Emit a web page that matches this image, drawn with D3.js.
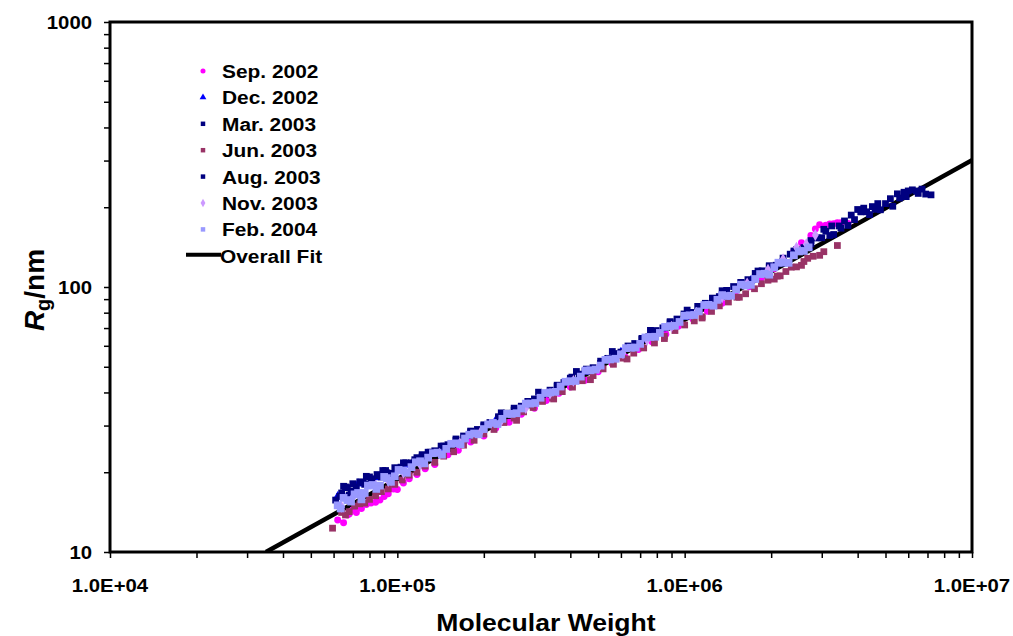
<!DOCTYPE html>
<html><head><meta charset="utf-8">
<script src="https://cdn.jsdelivr.net/npm/d3@7"></script>
<style>
body{margin:0;background:#fff;}
text{font-family:"Liberation Sans",Arial,sans-serif;font-weight:bold;fill:#000;}
</style></head>
<body><svg id="c" width="1013" height="636"></svg>
<script>
// ---- data (Molecular weight, Rg in nm) ----
const xTickLabels = ["1.0E+04","1.0E+05","1.0E+06","1.0E+07"];
const xTickValues = [1e4,1e5,1e6,1e7];
const yTickLabels = ["10","100","1000"];
const yTickValues = [10,100,1000];
const seriesNames = ["Sep. 2002","Dec. 2002","Mar. 2003","Jun. 2003","Aug. 2003","Nov. 2003","Feb. 2004"];

const sep2002 = [[6.2e4,13.2],[6.5e4,12.9],[6.8e4,13.9],[7.0e4,14.4],[7.5e4,14.6],[8.1e4,15.3],[8.7e4,15.7],[9.3e4,16.6],[1.0e5,17.2],[1.1e5,18.9],[1.25e5,20.6],[1.5e5,23.3],[1.8e5,26.0],[2.2e5,29.3],[2.7e5,33.1],[3.3e5,37.3],[4.0e5,41.9],[5.0e5,47.9],[6.2e5,54.5],[7.7e5,62.1],[9.5e5,71.1],[1.2e6,81.0],[1.5e6,93.6],[1.85e6,108.3],[2.2e6,126.1],[2.55e6,146.9],[2.75e6,156.5],[2.95e6,171.8],[3.1e6,171.2],[3.3e6,173.1],[3.5e6,174.7],[3.7e6,173.8],
  [6.7e4,13.8],[7.2e4,14.1],[7.8e4,15.1],[8.4e4,15.4],[9.0e4,16.2],[9.7e4,17.3],[1.05e5,18.2],[1.17e5,19.6],[1.35e5,21.4],[1.63e5,24.2],[2.0e5,27.4],[2.45e5,30.9],[3.0e5,34.9],[3.65e5,39.7],[4.5e5,44.5],[5.6e5,51.3],[6.9e5,58.1],[8.6e5,66.3],[1.07e6,75.6],[1.35e6,86.9],[1.68e6,100.2],[2.05e6,117.5],[2.4e6,136.7],[2.85e6,165.6],[3.2e6,173.0],[3.4e6,174.7]];

const dec2002 = [[6.2e4,16.2],[6.9e4,16.3],[7.3e4,18.1],[8.0e4,17.9],[8.5e4,19.1],[9.7e4,19.6],[1.08e5,21.3],[1.25e5,22.8],[1.45e5,24.7],[1.75e5,27.4],[2.2e5,31.4],[2.8e5,35.9],[3.6e5,41.8],[4.6e5,47.9],[6.0e5,56.8],[7.8e5,65.7],[1.0e6,77.1],[1.3e6,89.5],[1.7e6,106.0],[2.2e6,122.5],[2.7e6,141.1],
  [6.5e4,16.3],[7.7e4,18.2],[9.0e4,19.6]];

const mar2003 = [[6.3e4,16.2],[6.7e4,17.5],[7.1e4,16.8],[7.6e4,18.3],[8.1e4,18.6],[8.6e4,19.4],[9.2e4,19.9],[1.0e5,20.7],[1.15e5,22.3],[1.3e5,23.8],[1.45e5,25.1],[1.6e5,26.4],[1.8e5,28.4],[2.0e5,29.9],[2.25e5,32.1],[2.55e5,34.3],[2.85e5,37.0],[3.2e5,39.3],[3.6e5,42.2],[4.0e5,45.3],[4.5e5,48.2],[5.1e5,51.5],[5.7e5,55.6],[6.4e5,59.0],[7.1e5,63.4],[8.0e5,67.4],[8.9e5,73.3],[1.0e6,77.9],[1.12e6,84.1],[1.25e6,90.7],[1.4e6,95.3],[1.57e6,104.0],[1.76e6,108.3],[1.97e6,120.3],[2.2e6,124.9],[2.45e6,138.3],[2.75e6,149.7],[3.0e6,153.4],
  [6.5e4,17.7],[6.9e4,17.0],[7.8e4,19.3],[8.9e4,20.3],[1.05e5,21.7],[1.22e5,23.3]];

const jun2003 = [[5.95e4,12.3],[6.4e4,14.1],[6.8e4,14.2],[7.4e4,15.2],[8.0e4,15.8],[8.8e4,16.9],[9.8e4,18.0],[1.1e5,19.5],[1.25e5,21.1],[1.45e5,23.0],[1.7e5,25.3],[2.0e5,27.9],[2.35e5,30.8],[2.75e5,33.8],[3.2e5,37.0],[3.75e5,40.3],[4.4e5,44.3],[5.2e5,49.1],[6.1e5,53.9],[7.2e5,58.9],[8.5e5,65.2],[1.0e6,71.9],[1.15e6,77.2],[1.32e6,84.9],[1.52e6,91.5],[1.75e6,98.5],[1.95e6,106.1],[2.15e6,110.2],[2.35e6,118.8],[2.55e6,120.7],[2.8e6,130.6],[3.05e6,135.9],[3.4e6,143.4],
  [6.6e4,13.8],[7.1e4,14.9],[7.7e4,15.3],[8.4e4,16.3],[9.3e4,17.3],[1.04e5,18.7],[1.17e5,20.0],[1.35e5,21.8],[1.57e5,23.9],[1.85e5,26.4],[2.17e5,29.0],[2.55e5,32.0],[2.97e5,35.1],[3.47e5,38.1],[4.07e5,41.9],[4.8e5,46.3],[5.65e5,51.1],[6.65e5,56.3],[7.85e5,61.5],[9.25e5,68.5],[1.08e6,74.5],[1.24e6,80.9],[1.42e6,87.8],[1.63e6,94.3],[1.85e6,102.9],[2.05e6,107.1],[2.25e6,114.4],[2.45e6,119.1],[2.68e6,128.3],[2.95e6,131.7],
  [2.6e5,31.4],[3.5e5,37.8],[4.7e5,44.7],[6.3e5,53.5],[8.5e5,63.9],[1.15e6,76.4],[1.55e6,91.5],[2.1e6,109.9],[2.6e6,124.8]];

const aug2003 = [[6.1e4,15.7],[6.4e4,16.7],[6.8e4,16.4],[7.2e4,17.6],[7.7e4,18.0],[8.2e4,18.9],[8.8e4,19.2],[9.5e4,19.8],[1.03e5,20.9],[1.12e5,21.7],[1.22e5,22.9],[1.35e5,24.1],[1.5e5,25.4],[1.7e5,27.4],[1.9e5,29.0],[2.1e5,30.8],[2.4e5,33.4],[2.7e5,35.5],[3.0e5,37.8],[3.4e5,40.8],[3.8e5,43.6],[4.3e5,46.9],[4.8e5,49.6],[5.4e5,53.8],[6.0e5,56.8],[6.7e5,61.2],[7.5e5,64.9],[8.4e5,70.1],[9.4e5,75.7],[1.05e6,80.2],[1.18e6,86.8],[1.32e6,92.0],[1.48e6,100.4],[1.66e6,106.6],[1.86e6,115.1],[2.08e6,120.8],[2.33e6,133.0],[2.6e6,140.8],[2.9e6,153.1],[3.1e6,162.4],[3.25e6,170.0],[3.45e6,170.0],[3.6e6,177.5],[3.8e6,186.8],[4.0e6,196.1],[4.3e6,192.2],[4.5e6,201.1],[4.8e6,195.6],[5.0e6,206.4],[5.3e6,201.7],[5.6e6,216.7],[5.9e6,219.3],[6.2e6,232.6],[6.5e6,225.5],[6.9e6,224.2],[7.2e6,222.7],[3.2e6,156.4],[3.5e6,166.7],[3.9e6,179.6],[4.2e6,198.4],[4.6e6,196.4],[5.2e6,215.4],[5.8e6,227.8],[6.4e6,230.3],
  [6.6e4,17.6],[7.0e4,18.1],[7.4e4,18.4],[8.0e4,19.2],[8.5e4,19.6],[9.1e4,20.3],[9.8e4,20.8],[1.07e5,21.7],[1.17e5,22.7],[1.28e5,23.8],[1.42e5,25.1],[1.6e5,26.7],[1.8e5,28.6],[2.0e5,30.2],[2.25e5,32.4],[2.55e5,34.9],[2.85e5,37.0],[3.2e5,39.7],[3.6e5,42.6],[4.05e5,45.7],[4.55e5,49.0],[5.1e5,52.5],[5.7e5,56.1],[6.35e5,59.9],[7.1e5,64.0],[7.95e5,68.5],[8.9e5,74.0],[9.95e5,79.1],[1.11e6,84.5],[1.25e6,90.7],[1.4e6,97.1],[1.57e6,104.0],[1.76e6,112.5],[1.97e6,119.1],[2.2e6,128.5],[2.47e6,136.4],[2.75e6,145.5],
  [3.05e6,165.1],[3.3e6,157.8],[3.7e6,170.7],[4.1e6,192.1],[4.4e6,187.6],[4.7e6,206.4],[5.5e6,224.7],[6.0e6,230.4],[6.7e6,234.1],
  [2.3e5,33.5],[3.1e5,40.1],[4.2e5,48.0],[5.6e5,57.1],[7.6e5,68.6],[1.02e6,81.8],[1.35e6,96.8],[1.8e6,114.9],[2.4e6,136.7]];

const nov2003 = [[6.4e4,14.8],[7.0e4,16.1],[7.6e4,16.3],[8.4e4,17.8],[9.3e4,18.5],[1.05e5,19.9],[1.2e5,21.4],[1.4e5,23.5],[1.65e5,25.7],[1.95e5,28.4],[2.3e5,31.3],[2.8e5,34.9],[3.4e5,39.6],[4.1e5,44.2],[5.0e5,49.4],[6.1e5,56.2],[7.4e5,63.1],[9.0e5,70.9],[1.1e6,80.0],[1.35e6,91.4],[1.65e6,103.2],[1.95e6,116.2],[2.2e6,127.3],[2.45e6,140.9],[2.65e6,145.0],[2.85e6,157.1]];

const feb2004 = [[6.2e4,15.0],[6.5e4,16.0],[6.9e4,15.5],[7.3e4,16.7],[7.7e4,16.7],[8.2e4,17.9],[8.7e4,17.8],[9.2e4,19.0],[9.8e4,19.3],[1.05e5,20.3],[1.12e5,20.9],[1.2e5,22.0],[1.28e5,22.7],[1.38e5,23.7],[1.48e5,24.5],[1.6e5,25.7],[1.72e5,26.8],[1.85e5,28.0],[2.0e5,29.1],[2.15e5,30.7],[2.32e5,31.8],[2.5e5,33.2],[2.7e5,34.8],[2.9e5,36.3],[3.15e5,38.2],[3.4e5,40.0],[3.7e5,42.1],[4.0e5,44.1],[4.35e5,45.9],[4.7e5,48.5],[5.1e5,50.5],[5.5e5,53.3],[6.0e5,55.7],[6.5e5,59.0],[7.0e5,61.0],[7.6e5,64.8],[8.2e5,67.1],[8.9e5,71.2],[9.6e5,73.8],[1.04e6,78.2],[1.12e6,80.9],[1.21e6,85.6],[1.3e6,89.4],[1.4e6,92.5],[1.51e6,97.8],[1.63e6,101.3],[1.76e6,107.2],[1.9e6,112.2],[2.05e6,118.7],[2.2e6,123.7],[2.4e6,131.7],[2.6e6,136.8],
  [6.35e4,14.6],[6.7e4,15.7],[7.1e4,16.5],[7.5e4,15.8],[7.9e4,17.8],[8.45e4,17.3],[9.0e4,19.2],[9.5e4,18.4],[1.01e5,20.4],[1.08e5,19.9],[1.16e5,21.8],[1.24e5,21.6],[1.33e5,23.6],[1.43e5,23.3],[1.54e5,25.6],[1.66e5,25.5],[1.78e5,27.7],[1.92e5,27.8],[2.07e5,30.3],[2.23e5,30.4],[2.41e5,33.2],[2.6e5,33.4],[2.8e5,36.3],[3.02e5,36.5],[3.27e5,39.8],[3.55e5,40.2],[3.85e5,43.9],[4.17e5,44.2],[4.52e5,48.4],[4.9e5,48.8],[5.3e5,53.1],[5.75e5,53.6],[6.25e5,58.8],[6.75e5,59.1],[7.3e5,64.5],[7.9e5,64.9],[8.55e5,70.7],[9.25e5,71.4],[1.0e6,77.9],[1.08e6,78.4],[1.17e6,85.5],[1.26e6,85.0],[1.35e6,93.2],[1.45e6,92.7],[1.57e6,102.0],[1.7e6,101.9],[1.83e6,111.9],[1.97e6,111.3],[2.12e6,123.5],[2.3e6,123.4],[2.5e6,136.2],[2.7e6,141.1]];

// overall fit line end points (power law, straight on log-log axes)
const fitLine = [[3.49e4,10],[1e7,301]];

// ---- layout ----
const svg = d3.select("#c");
const L = 110, R = 972, T = 22, B = 552;
const SX = 1.13; // horizontal stretch of the original lettering
const x = d3.scaleLog().domain([1e4,1e7]).range([L,R]);
const y = d3.scaleLog().domain([10,1000]).range([B,T]);

function stext(px, py, size, anchor, str){
  return svg.append("text").attr("transform",`translate(${px},${py}) scale(${SX},1)`)
    .attr("text-anchor",anchor).style("font-size",size+"px").text(str);
}

svg.append("defs").append("clipPath").attr("id","clip")
  .append("rect").attr("x",L).attr("y",T).attr("width",R-L).attr("height",B-T);

const plot = svg.append("g").attr("clip-path","url(#clip)");

// fit line (under data)
plot.append("path").datum(fitLine)
  .attr("d", d3.line().x(d=>x(d[0])).y(d=>y(d[1])))
  .attr("stroke","#000").attr("stroke-width",4.5).attr("fill","none");

const styles = [
  {data:sep2002, color:"#FF00FF", sym:d3.symbolCircle, size:38},
  {data:dec2002, color:"#0000FF", sym:d3.symbolTriangle, size:38},
  {data:mar2003, color:"#000080", sym:d3.symbolSquare, size:46},
  {data:jun2003, color:"#993366", sym:d3.symbolSquare, size:46},
  {data:aug2003, color:"#000080", sym:d3.symbolSquare, size:46},
  {data:nov2003, color:"#CC99FF", sym:d3.symbolDiamond, size:40},
  {data:feb2004, color:"#9999FF", sym:d3.symbolSquare, size:60}
];

styles.forEach(s=>{
  plot.append("g").selectAll("path").data(s.data).join("path")
    .attr("transform", d=>`translate(${x(d[0])},${y(d[1])})`)
    .attr("d", d3.symbol().type(s.sym).size(s.size))
    .attr("fill", s.color);
});

// axes
const xAxis = d3.axisBottom(x).tickValues(d3.range(4,7).flatMap(e=>d3.range(1,10).map(k=>k*Math.pow(10,e))).concat([1e7]))
  .tickFormat("").tickSizeOuter(0).tickSize(6);
const gx = svg.append("g").attr("transform",`translate(0,${B})`).call(xAxis);
gx.select(".domain").remove();
gx.selectAll("line").attr("stroke","#000").attr("stroke-width",1.5);

const yAxis = d3.axisLeft(y).tickValues(d3.range(1,3).flatMap(e=>d3.range(1,10).map(k=>k*Math.pow(10,e))).concat([1000]))
  .tickFormat("").tickSizeOuter(0).tickSize(6);
const gy = svg.append("g").attr("transform",`translate(${L},0)`).call(yAxis);
gy.select(".domain").remove();
gy.selectAll("line").attr("stroke","#000").attr("stroke-width",1.5);

// frame
svg.append("rect").attr("x",L).attr("y",T).attr("width",R-L).attr("height",B-T)
  .attr("fill","none").attr("stroke","#000").attr("stroke-width",3);

// tick labels
xTickValues.forEach((d,i)=>stext(x(d), B+40, 18, "middle", xTickLabels[i]));
yTickValues.forEach((d,i)=>stext(L-18, y(d)+6.5, 18, "end", yTickLabels[i]));

// axis titles
stext(546, 631, 23.5, "middle", "Molecular Weight");
const yt = svg.append("text").attr("transform","translate(44,290) rotate(-90)")
  .attr("text-anchor","middle").style("font-size","28px");
yt.append("tspan").style("font-style","italic").text("R");
yt.append("tspan").attr("dy",6).style("font-size","20px").text("g");
yt.append("tspan").attr("dy",-6).text("/nm");

// legend
const legY0 = 71, legDY = 26.4;
styles.forEach((s,i)=>{
  const yy = legY0 + i*legDY;
  svg.append("path").attr("transform",`translate(203,${yy})`)
    .attr("d", d3.symbol().type(s.sym).size(20)).attr("fill",s.color);
  stext(222, yy+7, 18.5, "start", seriesNames[i]);
});
const fy = legY0 + 7*legDY - 1;
svg.append("line").attr("x1",186).attr("x2",221).attr("y1",fy).attr("y2",fy)
  .attr("stroke","#000").attr("stroke-width",4);
stext(220, fy+8, 18.5, "start", "Overall Fit");
</script></body></html>
